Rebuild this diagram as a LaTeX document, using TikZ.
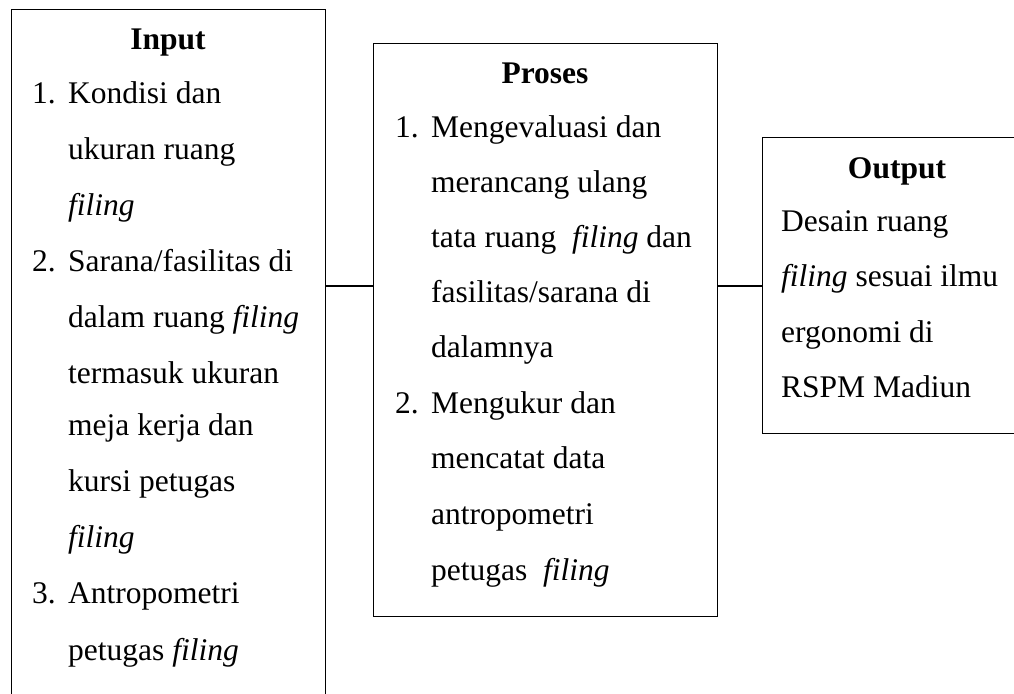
\documentclass[tikz,border=0pt]{standalone}
\usepackage{fontspec}
\setmainfont[Ligatures=NoCommon]{Liberation Serif}
\begin{document}
\begin{tikzpicture}[x=1pt,y=-1pt,
  box/.style={draw=black,line width=1.2pt,rectangle,anchor=north west,inner sep=0pt},
  link/.style={draw=black,line width=1.2pt},
  txt/.style={inner sep=0pt,anchor=base west,font=\fontsize{31.5}{55.5}\selectfont},
  head/.style={inner sep=0pt,anchor=base,font=\fontsize{31.5}{55.5}\selectfont\bfseries}]
\useasboundingbox (0,0) rectangle (1014,693);
\clip (0,0) rectangle (1014,693);
% boxes
\node[box,minimum width=314,minimum height=720] (inp) at (11,9) {};
\node[box,minimum width=344,minimum height=573] (proc) at (373,43) {};
\node[box,minimum width=280,minimum height=296] (outp) at (762,137) {};
% connectors
\coordinate (c1) at (349,286);
\draw[link] (inp.east |- c1) -- (proc.west |- c1);
\draw[link] (proc.east |- c1) -- (outp.west |- c1);
% Input texts
\node[head] (ih) at (168,49) {Input};
\node[txt] (in1) at (32,103) {1.};
\node[txt] (it1) at (68,103) {Kondisi dan};
\node[txt] (it2) at (68,159) {ukuran ruang};
\node[txt] (it3) at (68,215) {\textit{filing}};
\node[txt] (in2) at (32,271) {2.};
\node[txt] (it4) at (68,271) {Sarana/fasilitas di};
\node[txt] (it5) at (68,327) {dalam ruang \textit{filing}};
\node[txt] (it6) at (68,383) {termasuk ukuran};
\node[txt] (it7) at (68,435) {meja kerja dan};
\node[txt] (it8) at (68,491) {kursi petugas};
\node[txt] (it9) at (68,547) {\textit{filing}};
\node[txt] (in3) at (32,603) {3.};
\node[txt] (it10) at (68,603) {Antropometri};
\node[txt] (it11) at (68,660) {petugas \textit{filing}};
% Proses texts
\node[head] (ph) at (545,83) {Proses};
\node[txt] (pn1) at (395,137) {1.};
\node[txt] (pt1) at (431,137) {Mengevaluasi dan};
\node[txt] (pt2) at (431,192) {merancang ulang};
\node[txt] (pt3) at (431,247) {tata ruang~ \textit{filing} dan};
\node[txt] (pt4) at (431,302) {fasilitas/sarana di};
\node[txt] (pt5) at (431,357) {dalamnya};
\node[txt] (pn2) at (395,413) {2.};
\node[txt] (pt6) at (431,413) {Mengukur dan};
\node[txt] (pt7) at (431,468) {mencatat data};
\node[txt] (pt8) at (431,524) {antropometri};
\node[txt] (pt9) at (431,580) {petugas~ \textit{filing}};
% Output texts
\node[head] (oh) at (897,178) {Output};
\node[txt] (ot1) at (781,231) {Desain ruang};
\node[txt] (ot2) at (781,286) {\textit{filing} sesuai ilmu};
\node[txt] (ot3) at (781,342) {ergonomi di};
\node[txt] (ot4) at (781,397) {RSPM Madiun};
\end{tikzpicture}
\end{document}
